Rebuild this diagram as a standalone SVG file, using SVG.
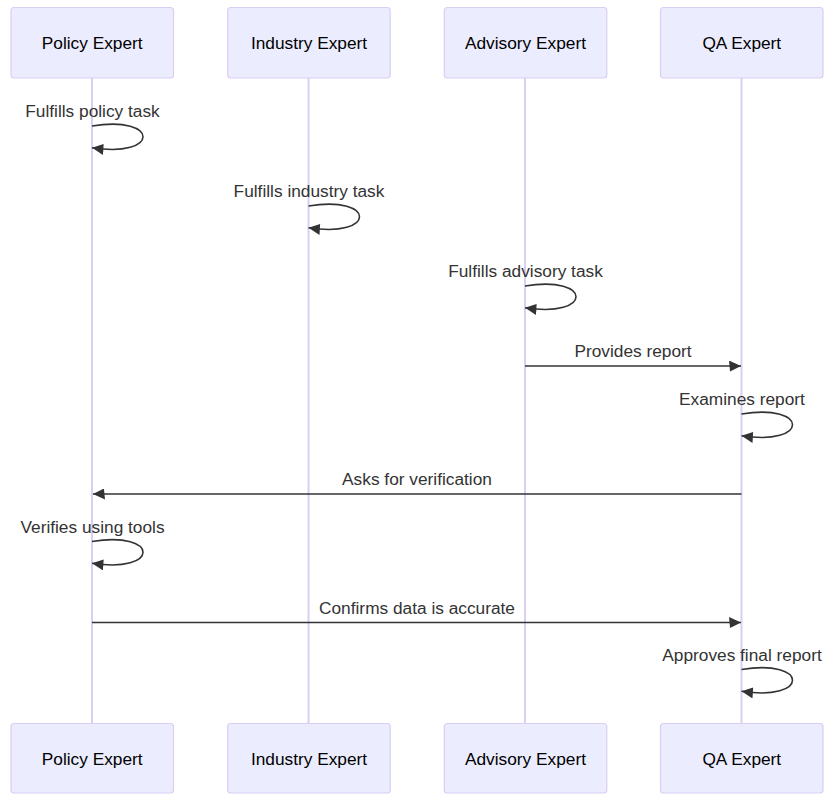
<svg xmlns="http://www.w3.org/2000/svg" width="826" height="794" viewBox="0 0 826 794">
<style>
.actor{fill:#ECECFF;stroke:#DACEF3;stroke-width:1.2}
.atext{font-family:"Liberation Sans",Arial,sans-serif;font-size:17.3px;fill:#000;text-anchor:middle}
.life{stroke:#DACEF3;stroke-width:2}
.msg{stroke:#333;stroke-width:1.6;fill:none;marker-end:url(#arrowhead)}
.mtext{font-family:"Liberation Sans",Arial,sans-serif;font-size:17.3px;fill:#333;text-anchor:middle}
</style>
<defs>
<marker id="arrowhead" viewBox="-1 0 11 10" refX="10" refY="5" markerUnits="userSpaceOnUse" markerWidth="12" markerHeight="11" orient="auto">
<path d="M -1 0 L 10 5 L 0 10 z" fill="#333"/>
</marker>
</defs>
<rect width="826" height="794" fill="#fff"/>
<g id="lifelines">
<line class="life" x1="92" y1="78" x2="92" y2="724"/>
<line class="life" x1="308.5" y1="78" x2="308.5" y2="724"/>
<line class="life" x1="525" y1="78" x2="525" y2="724"/>
<line class="life" x1="741.5" y1="78" x2="741.5" y2="724"/>
</g>
<g id="policy-top"><rect class="actor" x="11" y="7.5" width="162.5" height="70.5" rx="3"/><text class="atext" x="92.2" y="49">Policy Expert</text></g>
<g id="industry-top"><rect class="actor" x="227.7" y="7.5" width="162.5" height="70.5" rx="3"/><text class="atext" x="309" y="49">Industry Expert</text></g>
<g id="advisory-top"><rect class="actor" x="444.3" y="7.5" width="162.5" height="70.5" rx="3"/><text class="atext" x="525.5" y="49">Advisory Expert</text></g>
<g id="qa-top"><rect class="actor" x="660.5" y="7.5" width="162.5" height="70.5" rx="3"/><text class="atext" x="741.8" y="49">QA Expert</text></g>
<g id="policy-bottom"><rect class="actor" x="11" y="723.5" width="162.5" height="69.5" rx="3"/><text class="atext" x="92.2" y="764.5">Policy Expert</text></g>
<g id="industry-bottom"><rect class="actor" x="227.7" y="723.5" width="162.5" height="69.5" rx="3"/><text class="atext" x="309" y="764.5">Industry Expert</text></g>
<g id="advisory-bottom"><rect class="actor" x="444.3" y="723.5" width="162.5" height="69.5" rx="3"/><text class="atext" x="525.5" y="764.5">Advisory Expert</text></g>
<g id="qa-bottom"><rect class="actor" x="660.5" y="723.5" width="162.5" height="69.5" rx="3"/><text class="atext" x="741.8" y="764.5">QA Expert</text></g>
<g id="connectors">
<path class="msg" d="M 92,126 C 160,115 160,158.5 92,147.7"/>
<path class="msg" d="M 308.5,206 C 376.5,195 376.5,238.5 308.5,227.7"/>
<path class="msg" d="M 525,286 C 593,275 593,318.5 525,307.7"/>
<line class="msg" x1="525" y1="366" x2="741" y2="366"/>
<path class="msg" d="M 741.5,414 C 809.5,403 809.5,446.5 741.5,435.7"/>
<line class="msg" x1="741.5" y1="494" x2="93" y2="494"/>
<path class="msg" d="M 92,541.5 C 160,530.5 160,574 92,563.2"/>
<line class="msg" x1="92" y1="622.5" x2="741" y2="622.5"/>
<path class="msg" d="M 741.5,669.5 C 809.5,658.5 809.5,702 741.5,691.2"/>
</g>
<g id="labels">
<text class="mtext" x="92.5" y="117">Fulfills policy task</text>
<text class="mtext" x="309" y="197">Fulfills industry task</text>
<text class="mtext" x="525.5" y="277">Fulfills advisory task</text>
<text class="mtext" x="633" y="357.3">Provides report</text>
<text class="mtext" x="742" y="405">Examines report</text>
<text class="mtext" x="417" y="485">Asks for verification</text>
<text class="mtext" x="92.5" y="532.5">Verifies using tools</text>
<text class="mtext" x="417" y="613.5">Confirms data is accurate</text>
<text class="mtext" x="742" y="660.5">Approves final report</text>
</g>
</svg>
